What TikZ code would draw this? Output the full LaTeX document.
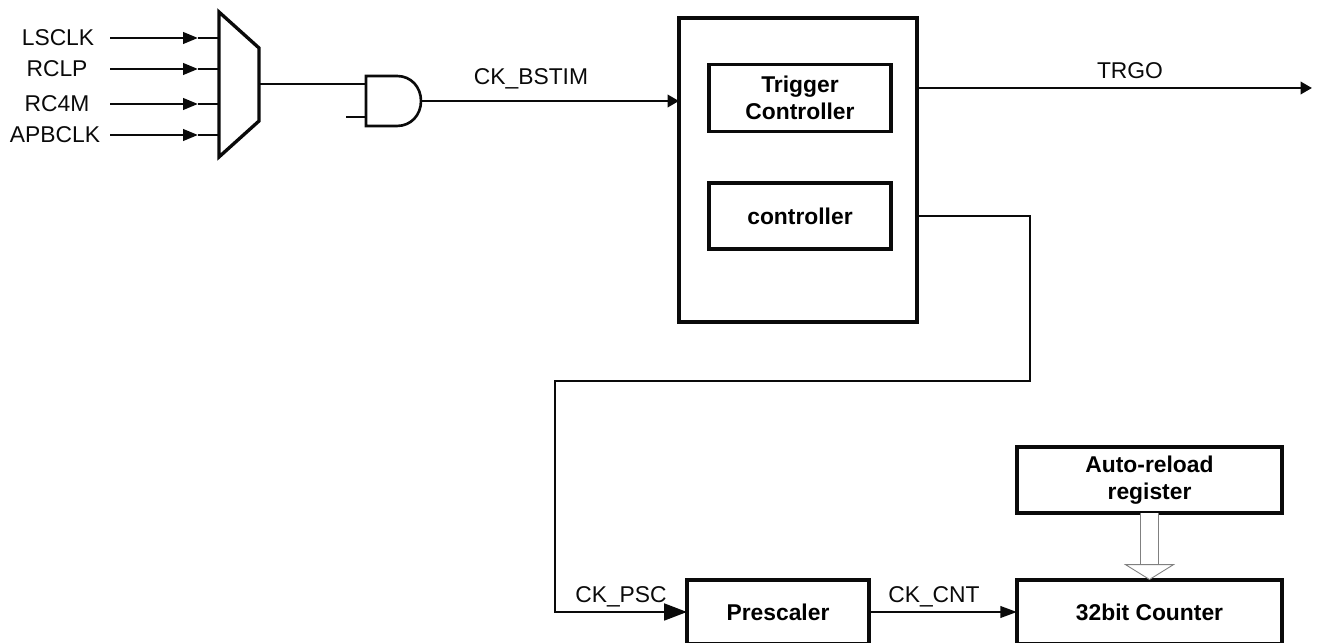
\documentclass[tikz,border=0pt]{standalone}
\usepackage{fontspec}
\setmainfont{Liberation Sans}
\usetikzlibrary{arrows.meta}
\definecolor{inkblack}{HTML}{0A0A0A}
\definecolor{hollowgrey}{HTML}{808080}
\tikzset{
  wire/.style={inkblack, line width=1.5pt},
  block/.style={draw=inkblack, line width=1.75pt, inner sep=0pt, outer sep=0pt, align=center,
    font=\fontsize{13}{15.3}\selectfont\bfseries},
  siglabel/.style={inkblack, anchor=base, inner sep=0pt, font=\fontsize{13}{15.3}\selectfont},
  inputtip/.style={-{Triangle[length=8.5pt,width=6.5pt]}},
  shorttip/.style={-{Triangle[length=6.5pt,width=7pt]}},
  midtip/.style={-{Triangle[length=9.5pt,width=6.5pt]}},
  bigtip/.style={-{Triangle[length=13pt,width=9.5pt]}},
  hollowarrow/.style={draw=hollowgrey, line width=0.5pt, double=white, double distance=9.5pt,
    -{Triangle[open,fill=white,length=9pt,width=29pt]}},
}

\begin{document}
\begin{tikzpicture}[x=0.02cm,y=-0.02cm]
  \useasboundingbox (0,0) rectangle (1319,644);
  \clip (0,0) rectangle (1319,642.5);

  % ── Clock inputs and mux (top-left) ──
  \draw[inkblack, line width=1.9pt, line join=miter] (219,12) -- (259,48) -- (259,121) -- (219,157) -- cycle;
  \coordinate (muxout) at (259,84);
  \foreach \name/\xx/\yy in {LSCLK/58/38, RCLP/57/69, RC4M/57/104, APBCLK/55/135} {
    \node[siglabel] (lab\name) at (\xx,\yy+8) {\name};
    \coordinate (in\name) at (110,\yy);
    \coordinate (tip\name) at (198,\yy);
    \coordinate (mux\name) at (219,\yy);
    \draw[wire, inputtip] (in\name) -- (tip\name);
    \draw[wire] (tip\name) -- (mux\name);
  }

  % ── AND gate ──
  \draw[inkblack, line width=1.5pt] (397,76) -- (366,76) -- (366,126) -- (397,126)
    .. controls (411,126) and (421,115) .. (421,101)
    .. controls (421,87) and (411,76) .. (397,76) -- cycle;
  \coordinate (andin) at (366,84);
  \coordinate (andlow) at (366,117);
  \coordinate (andfree) at (346,117);
  \coordinate (andout) at (421,101);
  \draw[wire] (muxout) -- (andin);
  \draw[wire] (andfree) -- (andlow);

  % ── Controller block ──
  \node[block, minimum width=4.76cm, minimum height=6.08cm] (mainbox) at (798,170) {};
  \node[block, minimum width=3.64cm, minimum height=1.34cm] (trigger) at (800,98) {Trigger\\Controller};
  \node[block, minimum width=3.64cm, minimum height=1.32cm] (controller) at (800,216) {controller};

  \draw[wire, shorttip] (andout) -- (mainbox.west |- andout);
  \node[siglabel] (labbstim) at (531,85) {CK\_BSTIM};

  % TRGO output
  \coordinate (trgoout) at (917,88);
  \coordinate (trgoend) at (1312,88);
  \draw[wire, shorttip] (trgoout) -- (trgoend);
  \node[siglabel] (labtrgo) at (1130,79) {TRGO};

  % ── Counter chain (bottom, runs off the page) ──
  \node[block, minimum width=3.64cm, minimum height=1.28cm] (prescaler) at (778,612) {Prescaler};
  \node[block, minimum width=5.3cm, minimum height=1.28cm] (counter) at (1149.5,612) {32bit Counter};
  \node[block, minimum width=5.3cm, minimum height=1.32cm] (reload) at (1149.5,480) {Auto-reload\\register};

  \draw[wire, bigtip] (controller.east -| mainbox.east) -- (1030,216) |- (555,381) |- (prescaler.west);
  \node[siglabel] (labpsc) at (621,603) {CK\_PSC};

  \draw[wire, midtip] (prescaler.east) -- (counter.west);
  \node[siglabel] (labcnt) at (934,603) {CK\_CNT};

  \draw[hollowarrow] (reload.south) -- (counter.north);

\end{tikzpicture}
\end{document}
